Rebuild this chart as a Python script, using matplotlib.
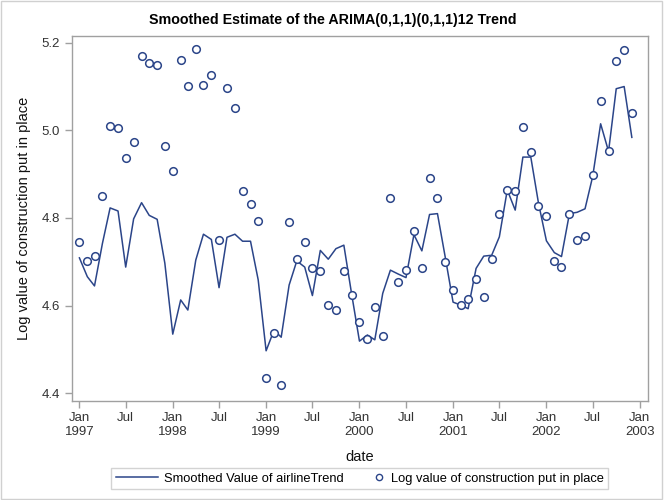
import pandas as pd
import matplotlib
matplotlib.use('Agg')
import matplotlib.pyplot as plt
import matplotlib.dates as mdates
from matplotlib.lines import Line2D
from matplotlib.patches import Rectangle
from matplotlib.legend_handler import HandlerBase

plt.rcParams['font.family'] = ['Liberation Sans', 'DejaVu Sans']

# monthly dates, Jan 1997 .. Dec 2002
dates = pd.date_range('1997-01-01', periods=72, freq='MS')

# smoothed trend (line)
trend = [4.709, 4.666, 4.645, 4.742, 4.823, 4.816, 4.688, 4.798, 4.835, 4.806, 4.797, 4.697,
         4.535, 4.613, 4.590, 4.704, 4.763, 4.751, 4.641, 4.756, 4.763, 4.747, 4.747, 4.659,
         4.497, 4.544, 4.528, 4.647, 4.702, 4.688, 4.623, 4.726, 4.706, 4.730, 4.738, 4.628,
         4.519, 4.533, 4.522, 4.628, 4.681, 4.672, 4.664, 4.762, 4.725, 4.808, 4.810, 4.712,
         4.608, 4.601, 4.593, 4.685, 4.713, 4.715, 4.757, 4.864, 4.818, 4.939, 4.939, 4.834,
         4.748, 4.721, 4.712, 4.810, 4.813, 4.821, 4.895, 5.015, 4.952, 5.095, 5.100, 4.984]

# observed log values (circles)
observed = [4.745, 4.703, 4.713, 4.850, 5.009, 5.006, 4.937, 4.973, 5.169, 5.153, 5.150, 4.965,
            4.907, 5.161, 5.101, 5.186, 5.103, 5.127, 4.750, 5.097, 5.050, 4.861, 4.831, 4.793,
            4.435, 4.538, 4.418, 4.790, 4.707, 4.746, 4.686, 4.678, 4.602, 4.591, 4.678, 4.625,
            4.562, 4.523, 4.597, 4.530, 4.846, 4.655, 4.681, 4.770, 4.686, 4.891, 4.846, 4.700,
            4.636, 4.602, 4.616, 4.661, 4.620, 4.707, 4.810, 4.865, 4.862, 5.008, 4.951, 4.827,
            4.805, 4.703, 4.689, 4.810, 4.750, 4.760, 4.898, 5.067, 4.954, 5.158, 5.184, 5.039]

yticks = [4.4, 4.6, 4.8, 5.0, 5.2]

color = '#2B4589'
gray = '#A0A0A0'


# legend handler that puts the circle at the right end of the handle box
class MarkerRight(HandlerBase):
    def create_artists(self, legend, orig_handle, xdescent, ydescent, width, height, fontsize, trans):
        m = Line2D([width - xdescent - 5], [height / 2 - ydescent], linestyle='none', marker='o',
                   markersize=4.5, markerfacecolor='white', markeredgecolor=color,
                   markeredgewidth=1.0)
        m.set_transform(trans)
        return [m]


fig = plt.figure(figsize=(6.66, 5), dpi=100)
ax = fig.add_axes([0.1081, 0.198, 0.8644, 0.7306])

ax.plot(dates, trend, color=color, linewidth=1.1)
ax.plot(dates, observed, linestyle='none', marker='o', markersize=5.5,
        markerfacecolor='white', markeredgecolor=color, markeredgewidth=1.1)

ax.set_xlim(pd.Timestamp('1996-12-03'), pd.Timestamp('2003-02-01'))
ax.set_ylim(4.3824, 5.216)

ax.xaxis.set_major_locator(mdates.MonthLocator(bymonth=[1, 7]))
ax.xaxis.set_major_formatter(
    plt.FuncFormatter(lambda v, p: mdates.num2date(v).strftime('%b\n%Y') if mdates.num2date(v).month == 1
                      else mdates.num2date(v).strftime('%b')))
ax.set_yticks(yticks)
ax.set_yticklabels([f'{v:.1f}' for v in yticks])

for s in ax.spines.values():
    s.set_color(gray)
    s.set_linewidth(1)
ax.tick_params(colors=gray, labelcolor='#333333', labelsize=9.5, length=5, width=1)
ax.tick_params(axis='x', pad=3)

ax.set_xlabel('date', fontsize=10.5, color='#111111', labelpad=9)
ax.set_ylabel('Log value of construction put in place', fontsize=10.5, color='#111111', labelpad=8)
fig.suptitle('Smoothed Estimate of the ARIMA(0,1,1)(0,1,1)12 Trend', fontsize=10.3,
             fontweight='bold', x=0.5, y=0.96, va='center')

handles = [Line2D([], [], color=color, linewidth=1.1), Line2D([], [])]
labels = ['Smoothed Value of airlineTrend', 'Log value of construction put in place']
leg = fig.legend(handles, labels, loc='center', bbox_to_anchor=(0.5403, 0.043), ncol=2,
                 frameon=True, fancybox=False, fontsize=9.3, handlelength=3.3,
                 columnspacing=0.0, handletextpad=0.4, borderpad=0.35, borderaxespad=0,
                 handler_map={handles[1]: MarkerRight()})
leg.get_frame().set_edgecolor('#C8C8C8')
leg.get_frame().set_linewidth(1)

# light border around the whole picture
fig.patches.append(Rectangle((0.001, 0.003), 0.993, 0.995, transform=fig.transFigure,
                             fill=False, edgecolor='#D0D0D0', linewidth=1))

fig.savefig('out.png', dpi=100)
